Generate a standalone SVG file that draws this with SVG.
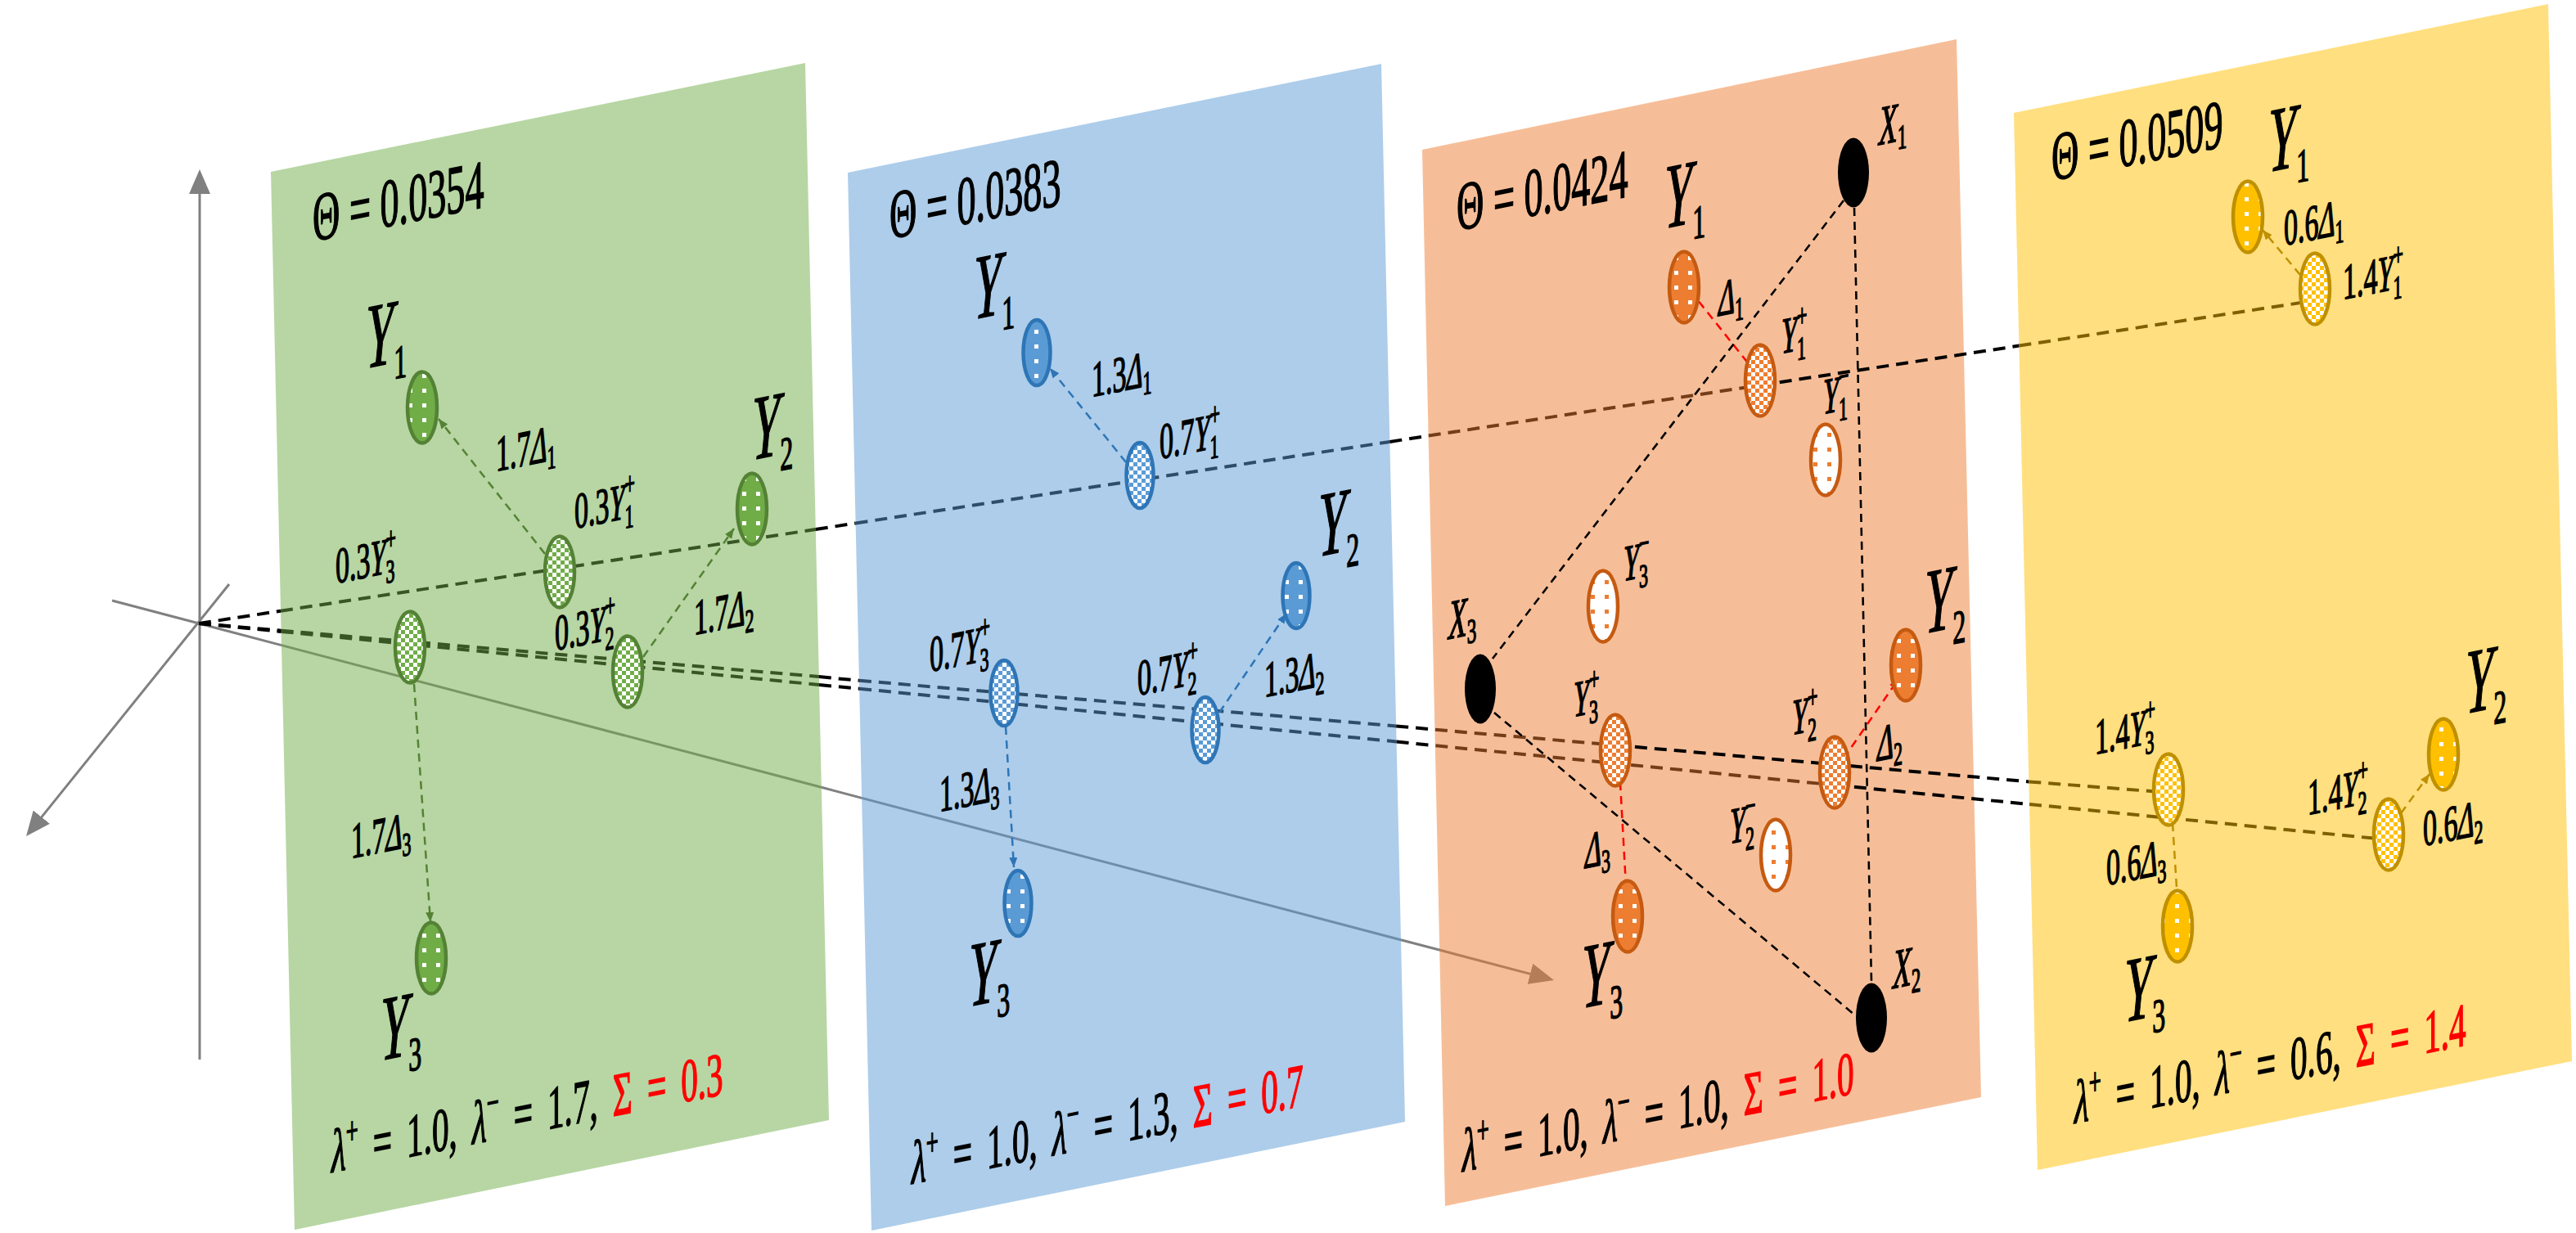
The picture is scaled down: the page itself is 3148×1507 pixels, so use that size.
<svg xmlns="http://www.w3.org/2000/svg" width="3148" height="1507" viewBox="0 0 3148 1507">
<style>
.t{font-family:"Liberation Serif","Times New Roman",serif;fill:#000;stroke:#000;stroke-width:1.6px}
.i{font-style:italic}
.L{font-size:112px}.Ls{font-size:58px}
.M{font-size:62px}.Ms{font-size:40px}
.H{font-size:84px}
.B{font-size:75px}.Bs{font-size:48px}
.X{font-size:68px}.Xs{font-size:42px}
.red{fill:#f00;stroke:#f00}
.ray{stroke-width:4;stroke-dasharray:15 9;fill:none}
.k{stroke:#000}.rg{stroke:#385623}.rb{stroke:#2D4D6A}.ro{stroke:#763E18}.ry{stroke:#7F6000}
.ax{stroke-width:3;fill:none}
.thin{stroke-width:2.5;stroke-dasharray:10 7;fill:none}
.tri{stroke:#000;stroke-width:2.6;stroke-dasharray:10 7;fill:none}
.nd{stroke-width:4.5}
.ng{stroke:#548235}.nb{stroke:#2E75B6}.no{stroke:#C55A11}.ny{stroke:#BF9000}
</style>
<defs>
<pattern id="dG" width="17" height="18" patternUnits="userSpaceOnUse"><rect width="17" height="18" fill="#70AD47"/><rect x="6" y="7" width="5" height="5" fill="#fff"/></pattern>
<pattern id="dB" width="17" height="18" patternUnits="userSpaceOnUse"><rect width="17" height="18" fill="#5B9BD5"/><rect x="6" y="7" width="5" height="5" fill="#fff"/></pattern>
<pattern id="dO" width="17" height="18" patternUnits="userSpaceOnUse"><rect width="17" height="18" fill="#ED7D31"/><rect x="6" y="7" width="5" height="5" fill="#fff"/></pattern>
<pattern id="dY" width="17" height="18" patternUnits="userSpaceOnUse"><rect width="17" height="18" fill="#FFC000"/><rect x="6" y="7" width="5" height="5" fill="#fff"/></pattern>
<pattern id="wO" width="17" height="18" patternUnits="userSpaceOnUse"><rect width="17" height="18" fill="#fff"/><rect x="6" y="7" width="5" height="5" fill="#ED7D31"/></pattern>
<pattern id="cG" width="10" height="10" patternUnits="userSpaceOnUse"><rect width="10" height="10" fill="#fff"/><path d="M0 0h5v5H0zM5 5h5v5H5z" fill="#70AD47"/></pattern>
<pattern id="cB" width="10" height="10" patternUnits="userSpaceOnUse"><rect width="10" height="10" fill="#fff"/><path d="M0 0h5v5H0zM5 5h5v5H5z" fill="#5B9BD5"/></pattern>
<pattern id="cO" width="10" height="10" patternUnits="userSpaceOnUse"><rect width="10" height="10" fill="#fff"/><path d="M0 0h5v5H0zM5 5h5v5H5z" fill="#ED7D31"/></pattern>
<pattern id="cY" width="10" height="10" patternUnits="userSpaceOnUse"><rect width="10" height="10" fill="#fff"/><path d="M0 0h5v5H0zM5 5h5v5H5z" fill="#FFC000"/></pattern>
<marker id="ma" markerUnits="userSpaceOnUse" markerWidth="30" markerHeight="26" refX="8" refY="13" orient="auto"><path d="M0,0L30,13L0,26z" fill="#808080"/></marker>
<marker id="mao" markerUnits="userSpaceOnUse" markerWidth="30" markerHeight="26" refX="8" refY="13" orient="auto"><path d="M0,0L30,13L0,26z" fill="#B67E58"/></marker>
<marker id="mg" markerUnits="userSpaceOnUse" markerWidth="12" markerHeight="10" refX="12" refY="5" orient="auto"><path d="M0,0L12,5L0,10z" fill="#548235"/></marker>
<marker id="mb" markerUnits="userSpaceOnUse" markerWidth="12" markerHeight="10" refX="12" refY="5" orient="auto"><path d="M0,0L12,5L0,10z" fill="#2E75B6"/></marker>
<marker id="mr" markerUnits="userSpaceOnUse" markerWidth="12" markerHeight="10" refX="12" refY="5" orient="auto"><path d="M0,0L12,5L0,10z" fill="#FF0000"/></marker>
<marker id="my" markerUnits="userSpaceOnUse" markerWidth="12" markerHeight="10" refX="12" refY="5" orient="auto"><path d="M0,0L12,5L0,10z" fill="#BF9000"/></marker>
</defs>
<rect width="3148" height="1507" fill="#fff"/>

<g id="panels">
<polygon id="panel-green" points="331,210 984,77 1013,1369 360,1503" fill="#70AD47" fill-opacity="0.5"/>
<polygon id="panel-blue" points="1036,211 1688,78 1717,1371 1065,1504" fill="#5B9BD5" fill-opacity="0.5"/>
<polygon id="panel-orange" points="1738,183 2391,48 2421,1341 1766,1474" fill="#ED7D31" fill-opacity="0.5"/>
<polygon id="panel-yellow" points="2461,138 3114,5 3143,1297 2490,1430" fill="#FFC000" fill-opacity="0.5"/>
</g>

<g id="connectors">
<line class="ax" x1="244" y1="1295" x2="244" y2="229" stroke="#808080" marker-end="url(#ma)"/>
<line class="ax" x1="280" y1="714" x2="45.8" y2="1004.9" stroke="#808080" marker-end="url(#ma)"/>
<line class="ax" x1="137" y1="734" x2="344" y2="788.6" stroke="#808080"/>
<line class="ax" x1="344" y1="788.6" x2="1003.9" y2="962.2" stroke="#789663"/>
<line class="ax" x1="1003.9" y1="962.2" x2="1053.2" y2="975.4" stroke="#808080"/>
<line class="ax" x1="1053.2" y1="975.4" x2="1712" y2="1148.7" stroke="#6D8DAA"/>
<line class="ax" x1="1712" y1="1148.7" x2="1759.9" y2="1161.3" stroke="#808080"/>
<line class="ax" x1="1759.9" y1="1161.3" x2="1877.7" y2="1192.4" stroke="#B67E58" marker-end="url(#mao)"/>
<line class="ray k" x1="243" y1="762" x2="343" y2="746.7"/>
<line class="ray rg" x1="343" y1="746.7" x2="996.8" y2="647"/>
<line class="ray k" x1="996.8" y1="647" x2="1045.6" y2="639.5"/>
<line class="ray rb" x1="1045.6" y1="639.5" x2="1698.4" y2="539.9"/>
<line class="ray k" x1="1698.4" y1="539.9" x2="1745.8" y2="532.6"/>
<line class="ray ro" x1="1745.8" y1="532.6" x2="2151" y2="470.8"/>
<line class="ray k" x1="2151" y1="470.8" x2="2467.4" y2="422.6"/>
<line class="ray ry" x1="2467.4" y1="422.6" x2="2815" y2="369.5"/>
<line class="ray k" x1="243" y1="762" x2="343.6" y2="770.7"/>
<line class="ray rg" x1="343.6" y1="770.7" x2="1000.8" y2="827.1"/>
<line class="ray k" x1="1000.8" y1="827.1" x2="1049.9" y2="831.8"/>
<line class="ray rb" x1="1049.9" y1="831.8" x2="1706.2" y2="887.4"/>
<line class="ray k" x1="1706.2" y1="887.4" x2="1753.9" y2="891.8"/>
<line class="ray ro" x1="1753.9" y1="891.8" x2="1974" y2="910.7"/>
<line class="ray k" x1="1974" y1="910.7" x2="2479.3" y2="955.4"/>
<line class="ray ry" x1="2479.3" y1="955.4" x2="2640" y2="967.9"/>
<line class="ray k" x1="243" y1="762" x2="343.6" y2="771.9"/>
<line class="ray rg" x1="343.6" y1="771.9" x2="1001" y2="837"/>
<line class="ray k" x1="1001" y1="837" x2="1050.1" y2="841.7"/>
<line class="ray rb" x1="1050.1" y1="841.7" x2="1706.6" y2="906.5"/>
<line class="ray k" x1="1706.6" y1="906.5" x2="1754.3" y2="911.3"/>
<line class="ray ro" x1="1754.3" y1="911.3" x2="2242" y2="959.5"/>
<line class="ray k" x1="2242" y1="959.5" x2="2480" y2="983"/>
<line class="ray ry" x1="2480" y1="983" x2="2905" y2="1025"/>
<line class="thin" stroke="#548235" x1="666" y1="677" x2="536" y2="512" marker-end="url(#mg)"/>
<line class="thin" stroke="#548235" x1="786" y1="803" x2="897" y2="646" marker-end="url(#mg)"/>
<line class="thin" stroke="#548235" x1="506" y1="836" x2="526" y2="1127" marker-end="url(#mg)"/>
<line class="thin" stroke="#2E75B6" x1="1376" y1="565" x2="1283" y2="450" marker-end="url(#mb)"/>
<line class="thin" stroke="#2E75B6" x1="1490" y1="871" x2="1572" y2="750" marker-end="url(#mb)"/>
<line class="thin" stroke="#2E75B6" x1="1229" y1="888" x2="1239" y2="1060" marker-end="url(#mb)"/>
<line class="thin" stroke="#FF0000" x1="2146" y1="456" x2="2066" y2="356" marker-end="url(#mr)"/>
<line class="thin" stroke="#FF0000" x1="1979" y1="939" x2="1988" y2="1101" marker-end="url(#mr)"/>
<line class="thin" stroke="#FF0000" x1="2253" y1="927" x2="2320" y2="830" marker-end="url(#mr)"/>
<line class="thin" stroke="#BF9000" x1="2811" y1="336" x2="2765" y2="281" marker-end="url(#my)"/>
<line class="thin" stroke="#BF9000" x1="2934" y1="994" x2="2969" y2="946" marker-end="url(#my)"/>
<line class="thin" stroke="#BF9000" x1="2655" y1="1006" x2="2661" y2="1101" marker-end="url(#my)"/>
<line class="tri" x1="2253" y1="245" x2="1824" y2="805"/>
<line class="tri" x1="2266" y1="254" x2="2287" y2="1200"/>
<line class="tri" x1="1826" y1="871" x2="2272" y2="1245"/>
</g>

<g id="green-nodes">
<g id="g-Y1"><ellipse class="nd ng" cx="516" cy="498" rx="18" ry="43.5" fill="url(#dG)"/>
<text class="t L" transform="matrix(.55 -.11 0 1 447 450)"><tspan class="i">Y</tspan><tspan class="Ls" dy="20">1</tspan></text></g>
<g id="g-Y1p"><ellipse class="nd ng" cx="684" cy="699" rx="18" ry="43.5" fill="url(#cG)"/>
<text class="t M" transform="matrix(.55 -.11 0 1 702 646)">0.3<tspan class="i">Y</tspan><tspan class="Ms" dy="12">1</tspan><tspan class="Ms" dx="-20" dy="-40">+</tspan></text></g>
<g id="g-Y2"><ellipse class="nd ng" cx="919" cy="622" rx="18" ry="43.5" fill="url(#dG)"/>
<text class="t L" transform="matrix(.55 -.11 0 1 919 562)"><tspan class="i">Y</tspan><tspan class="Ls" dy="20">2</tspan></text></g>
<g id="g-Y3p"><ellipse class="nd ng" cx="501" cy="791" rx="18" ry="43.5" fill="url(#cG)"/>
<text class="t M" transform="matrix(.55 -.11 0 1 410 713)">0.3<tspan class="i">Y</tspan><tspan class="Ms" dy="12">3</tspan><tspan class="Ms" dx="-20" dy="-40">+</tspan></text></g>
<g id="g-Y2p"><ellipse class="nd ng" cx="767" cy="821" rx="18" ry="43.5" fill="url(#cG)"/>
<text class="t M" transform="matrix(.55 -.11 0 1 678 795)">0.3<tspan class="i">Y</tspan><tspan class="Ms" dy="12">2</tspan><tspan class="Ms" dx="-20" dy="-40">+</tspan></text></g>
<g id="g-Y3"><ellipse class="nd ng" cx="527" cy="1171" rx="18" ry="43.5" fill="url(#dG)"/>
<text class="t L" transform="matrix(.55 -.11 0 1 465 1296)"><tspan class="i">Y</tspan><tspan class="Ls" dy="20">3</tspan></text></g>
</g>

<g id="blue-nodes">
<g id="b-Y1"><ellipse class="nd nb" cx="1267" cy="431" rx="16.5" ry="40" fill="url(#dB)"/>
<text class="t L" transform="matrix(.55 -.11 0 1 1190 390)"><tspan class="i">Y</tspan><tspan class="Ls" dy="20">1</tspan></text></g>
<g id="b-Y1p"><ellipse class="nd nb" cx="1393" cy="581" rx="16.5" ry="40" fill="url(#cB)"/>
<text class="t M" transform="matrix(.55 -.11 0 1 1417 561)">0.7<tspan class="i">Y</tspan><tspan class="Ms" dy="12">1</tspan><tspan class="Ms" dx="-20" dy="-40">+</tspan></text></g>
<g id="b-Y2"><ellipse class="nd nb" cx="1584" cy="728" rx="16.5" ry="40" fill="url(#dB)"/>
<text class="t L" transform="matrix(.55 -.11 0 1 1611 680)"><tspan class="i">Y</tspan><tspan class="Ls" dy="20">2</tspan></text></g>
<g id="b-Y3p"><ellipse class="nd nb" cx="1227" cy="847" rx="16.5" ry="40" fill="url(#cB)"/>
<text class="t M" transform="matrix(.55 -.11 0 1 1136 821)">0.7<tspan class="i">Y</tspan><tspan class="Ms" dy="12">3</tspan><tspan class="Ms" dx="-20" dy="-40">+</tspan></text></g>
<g id="b-Y2p"><ellipse class="nd nb" cx="1473" cy="892" rx="16.5" ry="40" fill="url(#cB)"/>
<text class="t M" transform="matrix(.55 -.11 0 1 1390 850)">0.7<tspan class="i">Y</tspan><tspan class="Ms" dy="12">2</tspan><tspan class="Ms" dx="-20" dy="-40">+</tspan></text></g>
<g id="b-Y3"><ellipse class="nd nb" cx="1244" cy="1104" rx="16.5" ry="40" fill="url(#dB)"/>
<text class="t L" transform="matrix(.55 -.11 0 1 1184 1230)"><tspan class="i">Y</tspan><tspan class="Ls" dy="20">3</tspan></text></g>
</g>

<g id="orange-nodes">
<g id="o-X1"><ellipse cx="2265" cy="211" rx="19" ry="42.5" fill="#000"/>
<text class="t X" transform="matrix(.55 -.11 0 1 2296 177)"><tspan class="i">X</tspan><tspan class="Xs" dy="10">1</tspan></text></g>
<g id="o-Y1"><ellipse class="nd no" cx="2058" cy="351" rx="18" ry="43.5" fill="url(#dO)"/>
<text class="t L" transform="matrix(.55 -.11 0 1 2034 279)"><tspan class="i">Y</tspan><tspan class="Ls" dy="20">1</tspan></text></g>
<g id="o-Y1p"><ellipse class="nd no" cx="2151" cy="465" rx="18" ry="43.5" fill="url(#cO)"/>
<text class="t M" transform="matrix(.55 -.11 0 1 2177 432)"><tspan class="i">Y</tspan><tspan class="Ms" dy="12">1</tspan><tspan class="Ms" dx="-20" dy="-40">+</tspan></text></g>
<g id="o-Y1m"><ellipse class="nd no" cx="2231" cy="562" rx="18" ry="43.5" fill="url(#wO)"/>
<text class="t M" transform="matrix(.55 -.11 0 1 2228 506)"><tspan class="i">Y</tspan><tspan class="Ms" dy="12">1</tspan><tspan class="Ms" dx="-20" dy="-40">−</tspan></text></g>
<g id="o-Y3m"><ellipse class="nd no" cx="1959" cy="741" rx="18" ry="43.5" fill="url(#wO)"/>
<text class="t M" transform="matrix(.55 -.11 0 1 1984 710)"><tspan class="i">Y</tspan><tspan class="Ms" dy="12">3</tspan><tspan class="Ms" dx="-20" dy="-40">−</tspan></text></g>
<g id="o-X3"><ellipse cx="1809" cy="842" rx="19" ry="42.5" fill="#000"/>
<text class="t X" transform="matrix(.55 -.11 0 1 1770 781)"><tspan class="i">X</tspan><tspan class="Xs" dy="10">3</tspan></text></g>
<g id="o-Y2"><ellipse class="nd no" cx="2329" cy="813" rx="18" ry="43.5" fill="url(#dO)"/>
<text class="t L" transform="matrix(.55 -.11 0 1 2352 774)"><tspan class="i">Y</tspan><tspan class="Ls" dy="20">2</tspan></text></g>
<g id="o-Y3p"><ellipse class="nd no" cx="1974" cy="917" rx="18" ry="43.5" fill="url(#cO)"/>
<text class="t M" transform="matrix(.55 -.11 0 1 1923 876)"><tspan class="i">Y</tspan><tspan class="Ms" dy="12">3</tspan><tspan class="Ms" dx="-20" dy="-40">+</tspan></text></g>
<g id="o-Y2p"><ellipse class="nd no" cx="2242" cy="944" rx="18" ry="43.5" fill="url(#cO)"/>
<text class="t M" transform="matrix(.55 -.11 0 1 2190 898)"><tspan class="i">Y</tspan><tspan class="Ms" dy="12">2</tspan><tspan class="Ms" dx="-20" dy="-40">+</tspan></text></g>
<g id="o-Y2m"><ellipse class="nd no" cx="2170" cy="1045" rx="18" ry="43.5" fill="url(#wO)"/>
<text class="t M" transform="matrix(.55 -.11 0 1 2114 1031)"><tspan class="i">Y</tspan><tspan class="Ms" dy="12">2</tspan><tspan class="Ms" dx="-20" dy="-40">−</tspan></text></g>
<g id="o-Y3"><ellipse class="nd no" cx="1989" cy="1120" rx="18" ry="43.5" fill="url(#dO)"/>
<text class="t L" transform="matrix(.55 -.11 0 1 1933 1232)"><tspan class="i">Y</tspan><tspan class="Ls" dy="20">3</tspan></text></g>
<g id="o-X2"><ellipse cx="2287" cy="1244" rx="19" ry="42.5" fill="#000"/>
<text class="t X" transform="matrix(.55 -.11 0 1 2313 1208)"><tspan class="i">X</tspan><tspan class="Xs" dy="10">2</tspan></text></g>
</g>

<g id="yellow-nodes">
<g id="y-Y1"><ellipse class="nd ny" cx="2747" cy="265" rx="18" ry="43.5" fill="url(#dY)"/>
<text class="t L" transform="matrix(.55 -.11 0 1 2772 210)"><tspan class="i">Y</tspan><tspan class="Ls" dy="20">1</tspan></text></g>
<g id="y-Y1p"><ellipse class="nd ny" cx="2829" cy="353" rx="18" ry="43.5" fill="url(#cY)"/>
<text class="t M" transform="matrix(.55 -.11 0 1 2863 366)">1.4<tspan class="i">Y</tspan><tspan class="Ms" dy="12">1</tspan><tspan class="Ms" dx="-20" dy="-40">+</tspan></text></g>
<g id="y-Y3p"><ellipse class="nd ny" cx="2650" cy="965" rx="18" ry="43.5" fill="url(#cY)"/>
<text class="t M" transform="matrix(.55 -.11 0 1 2560 922)">1.4<tspan class="i">Y</tspan><tspan class="Ms" dy="12">3</tspan><tspan class="Ms" dx="-20" dy="-40">+</tspan></text></g>
<g id="y-Y3"><ellipse class="nd ny" cx="2661" cy="1132" rx="18" ry="43.5" fill="url(#dY)"/>
<text class="t L" transform="matrix(.55 -.11 0 1 2596 1249)"><tspan class="i">Y</tspan><tspan class="Ls" dy="20">3</tspan></text></g>
<g id="y-Y2p"><ellipse class="nd ny" cx="2919" cy="1020" rx="18" ry="43.5" fill="url(#cY)"/>
<text class="t M" transform="matrix(.55 -.11 0 1 2820 996)">1.4<tspan class="i">Y</tspan><tspan class="Ms" dy="12">2</tspan><tspan class="Ms" dx="-20" dy="-40">+</tspan></text></g>
<g id="y-Y2"><ellipse class="nd ny" cx="2986" cy="922" rx="18" ry="43.5" fill="url(#dY)"/>
<text class="t L" transform="matrix(.55 -.11 0 1 3013 872)"><tspan class="i">Y</tspan><tspan class="Ls" dy="20">2</tspan></text></g>
</g>

<g id="link-labels">
<text class="t M" transform="matrix(.55 -.11 0 1 606 576)">1.7<tspan class="i">Δ</tspan><tspan class="Ms" dy="10">1</tspan></text>
<text class="t M" transform="matrix(.55 -.11 0 1 848 776)">1.7<tspan class="i">Δ</tspan><tspan class="Ms" dy="10">2</tspan></text>
<text class="t M" transform="matrix(.55 -.11 0 1 429 1049)">1.7<tspan class="i">Δ</tspan><tspan class="Ms" dy="10">3</tspan></text>
<text class="t M" transform="matrix(.55 -.11 0 1 1334 485)">1.3<tspan class="i">Δ</tspan><tspan class="Ms" dy="10">1</tspan></text>
<text class="t M" transform="matrix(.55 -.11 0 1 1545 852)">1.3<tspan class="i">Δ</tspan><tspan class="Ms" dy="10">2</tspan></text>
<text class="t M" transform="matrix(.55 -.11 0 1 1148 992)">1.3<tspan class="i">Δ</tspan><tspan class="Ms" dy="10">3</tspan></text>
<text class="t M" transform="matrix(.55 -.11 0 1 2100 386)"><tspan class="i">Δ</tspan><tspan class="Ms" dy="10">1</tspan></text>
<text class="t M" transform="matrix(.55 -.11 0 1 2294 930)"><tspan class="i">Δ</tspan><tspan class="Ms" dy="10">2</tspan></text>
<text class="t M" transform="matrix(.55 -.11 0 1 1937 1061)"><tspan class="i">Δ</tspan><tspan class="Ms" dy="10">3</tspan></text>
<text class="t M" transform="matrix(.55 -.11 0 1 2791 300)">0.6<tspan class="i">Δ</tspan><tspan class="Ms" dy="10">1</tspan></text>
<text class="t M" transform="matrix(.55 -.11 0 1 2961 1034)">0.6<tspan class="i">Δ</tspan><tspan class="Ms" dy="10">2</tspan></text>
<text class="t M" transform="matrix(.55 -.11 0 1 2574 1082)">0.6<tspan class="i">Δ</tspan><tspan class="Ms" dy="10">3</tspan></text>
</g>

<g id="panel-texts">
<text class="t H" transform="matrix(.55 -.11 0 1 382 295)">Θ = 0.0354</text>
<text class="t H" transform="matrix(.55 -.11 0 1 1087 292)">Θ = 0.0383</text>
<text class="t H" transform="matrix(.55 -.11 0 1 1780 282)">Θ = 0.0424</text>
<text class="t H" transform="matrix(.55 -.11 0 1 2507 221)">Θ = 0.0509</text>
<text class="t B" word-spacing="14" transform="matrix(.55 -.11 0 1 405 1433)"><tspan class="i">λ</tspan><tspan class="Bs" dy="-30">+</tspan><tspan dy="30"> = 1.0, </tspan><tspan class="i">λ</tspan><tspan class="Bs" dy="-30">−</tspan><tspan dy="30"> = 1.7, </tspan><tspan class="red">Σ = 0.3</tspan></text>
<text class="t B" word-spacing="14" transform="matrix(.55 -.11 0 1 1114 1447)"><tspan class="i">λ</tspan><tspan class="Bs" dy="-30">+</tspan><tspan dy="30"> = 1.0, </tspan><tspan class="i">λ</tspan><tspan class="Bs" dy="-30">−</tspan><tspan dy="30"> = 1.3, </tspan><tspan class="red">Σ = 0.7</tspan></text>
<text class="t B" word-spacing="14" transform="matrix(.55 -.11 0 1 1787 1432)"><tspan class="i">λ</tspan><tspan class="Bs" dy="-30">+</tspan><tspan dy="30"> = 1.0, </tspan><tspan class="i">λ</tspan><tspan class="Bs" dy="-30">−</tspan><tspan dy="30"> = 1.0, </tspan><tspan class="red">Σ = 1.0</tspan></text>
<text class="t B" word-spacing="14" transform="matrix(.55 -.11 0 1 2535 1373)"><tspan class="i">λ</tspan><tspan class="Bs" dy="-30">+</tspan><tspan dy="30"> = 1.0, </tspan><tspan class="i">λ</tspan><tspan class="Bs" dy="-30">−</tspan><tspan dy="30"> = 0.6, </tspan><tspan class="red">Σ = 1.4</tspan></text>
</g>
</svg>
